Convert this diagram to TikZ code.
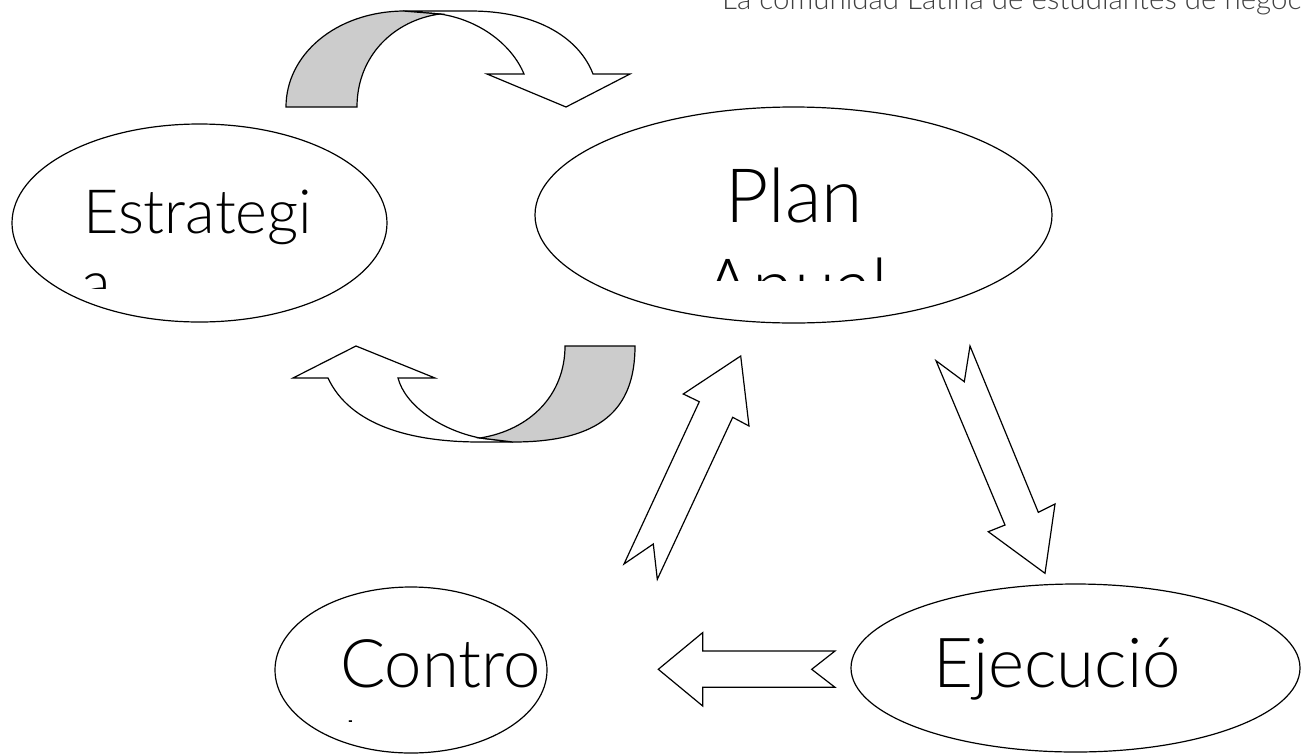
\documentclass[tikz,border=0pt]{standalone}
\usepackage{fontspec}
\setmainfont{Lato}[UprightFont=* Light]
\usetikzlibrary{shapes.geometric}
\definecolor{bandgrey}{HTML}{CCCCCC}
\definecolor{toptext}{HTML}{404040}
\tikzset{
  bubble/.style={draw, ellipse, line width=1.2pt, inner sep=0pt, fill=white},
  blockarrow/.style={draw, fill=white, line width=1.2pt, line join=miter},
  band/.style={draw, fill=bandgrey, line width=1.2pt, line join=miter},
  lbl/.style={inner sep=0pt, anchor=base west},
}
\begin{document}
\begin{tikzpicture}[x=1pt, y=-1pt]
\useasboundingbox (0,0) rectangle (1301,753);
\clip (0,0) rectangle (1301,753);

% header
\node[lbl, text=toptext, font=\fontsize{29.5}{34}\selectfont] (header) at (722,9) {La comunidad Latina de estudiantes de negoc};

% ellipses
\node[bubble, minimum width=375pt, minimum height=198pt] (estr) at (199.5,223) {};
\node[bubble, minimum width=517pt, minimum height=216pt] (plan) at (793.5,215) {};
\node[bubble, minimum width=272pt, minimum height=166pt] (ctrl) at (411,670) {};
\node[bubble, minimum width=449pt, minimum height=168pt] (ejec) at (1075.5,668) {};

% texts
\node[lbl, font=\fontsize{61}{80}\selectfont] (estrA) at (83,233) {Estrategi};
\begin{scope}
  \clip (60,250) rectangle (340,288);
  \node[lbl, font=\fontsize{61}{80}\selectfont] (estrB) at (81,304) {a};
\end{scope}
\node[anchor=base, inner sep=0pt, font=\fontsize{75}{90}\selectfont] (planA) at (794,222) {Plan};
\begin{scope}
  \clip (650,240) rectangle (950,280);
  \node[anchor=base, inner sep=0pt, font=\fontsize{75}{90}\selectfont] (planB) at (796,312) {Anual};
\end{scope}
\node[lbl, font=\fontsize{67}{80}\selectfont] (ctrlA) at (340,687) {Contro};
\begin{scope}
  \clip (300,700) rectangle (540,721.5);
  \node[lbl, font=\fontsize{67}{80}\selectfont] (ctrlB) at (343,769.5) {l};
\end{scope}
\node[lbl, font=\fontsize{69}{80}\selectfont] (ejecA) at (933,687) {Ejecució};

% top U-turn arrow
\draw[blockarrow] (440,14) .. controls (480,20) and (512,45) .. (524,74) -- (487,74) -- (566,107) -- (630,74) -- (593,74) .. controls (580,40) and (540,11) .. (470,11) -- (403,11) -- cycle;
\draw[band] (286,107) -- (357,107) .. controls (357,55) and (395,20) .. (440,14) -- (403,11) .. controls (335,12) and (286,55) .. (286,107) -- cycle;

% bottom U-turn arrow
\draw[blockarrow] (480,438) .. controls (440,430) and (405,405) .. (398,378) -- (435,378) -- (356,346) -- (293,378) -- (328,378) .. controls (350,425) and (410,442) .. (480,442) -- (513,442) -- cycle;
\draw[band] (565,346) -- (635,346) .. controls (635,410) and (600,442) .. (513,442) -- (480,438) .. controls (530,430) and (565,395) .. (565,346) -- cycle;

% block arrows
\draw[blockarrow] (740.7,356) -- (749,426) -- (732.7,417.3) -- (657.3,579.3) -- (653.3,544) -- (624,564) -- (699.3,401.7) -- (683.3,394) -- cycle;
\draw[blockarrow] (970,346) -- (1038.3,512.3) -- (1055,504) -- (1045,573.3) -- (988.3,531.7) -- (1005,525) -- (936,360.7) -- (964.3,381.7) -- cycle;
\draw[blockarrow] (658.3,669.3) -- (702.7,632.6) -- (702.7,651) -- (835,651) -- (811.7,669.3) -- (835,687.3) -- (702.7,687.3) -- (702.7,706) -- cycle;
\end{tikzpicture}
\end{document}
